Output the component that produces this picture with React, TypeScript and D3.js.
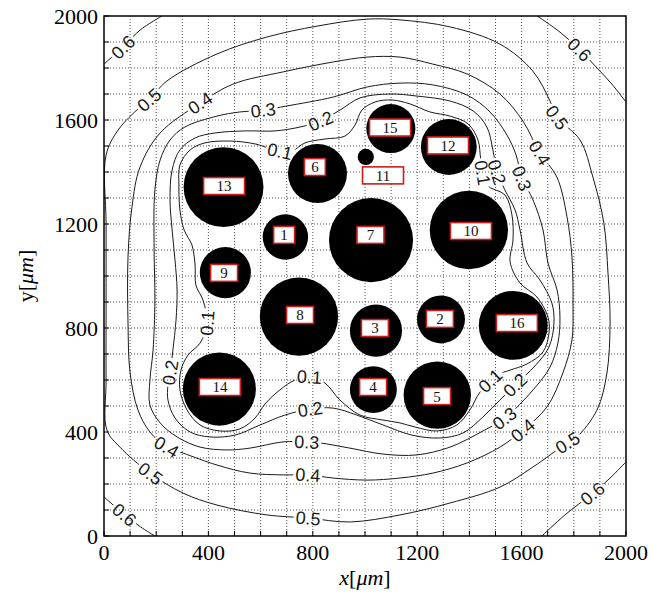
import React, { useEffect, useRef } from 'react';
import * as d3 from 'd3';

type Pt = [number, number];

const W = 651;
const H = 596;
const DOMAIN: Pt = [0, 2000];
const tickValues = [0, 400, 800, 1200, 1600, 2000];
const gridValues = d3.range(100, 2000, 100);

// Pores: id, centre (µm) and radius (µm)
const poreIds = [1, 2, 3, 4, 5, 6, 7, 8, 9, 10, 11, 12, 13, 14, 15, 16];
const poreX = [695, 1291, 1042, 1032, 1277, 818, 1023, 747, 465, 1398, 1003, 1321, 458, 442, 1099, 1568];
const poreY = [1150, 833, 790, 563, 542, 1394, 1138, 844, 1013, 1177, 1458, 1496, 1342, 565, 1567, 810];
const poreR = [87, 92, 100, 90, 129, 113, 161, 150, 98, 150, 31, 107, 153, 140, 94, 132];
// Where each pore's number tag sits (µm)
const tagX = [690, 1287, 1038, 1031, 1276, 808, 1021, 751, 460, 1406, 1069, 1318, 460, 444, 1096, 1582];
const tagY = [1158, 835, 800, 573, 538, 1419, 1158, 850, 1012, 1173, 1387, 1502, 1346, 573, 1571, 819];

// Iso-concentration lines (µm)
const iso01: Pt[] = [
  [291, 1427], [330, 1485], [387, 1512], [483, 1519], [579, 1508], [644, 1488], [713, 1477],
  [770, 1512], [847, 1527], [923, 1538], [962, 1581], [988, 1638], [1038, 1669], [1103, 1677],
  [1172, 1662], [1249, 1631], [1326, 1615], [1395, 1585], [1433, 1523], [1444, 1446], [1467, 1350],
  [1536, 1312], [1563, 1235], [1567, 1138], [1556, 1054], [1594, 973], [1659, 919], [1701, 842],
  [1705, 781], [1682, 708], [1621, 662], [1556, 638], [1506, 619], [1441, 554], [1402, 485],
  [1352, 427], [1276, 404], [1192, 419], [1134, 435], [1069, 446], [981, 465], [904, 523],
  [847, 588], [789, 612], [732, 600], [674, 562], [617, 508], [579, 454], [521, 412], [444, 404],
  [368, 427], [318, 485], [291, 562], [295, 638], [322, 696], [368, 742], [395, 819], [379, 908],
  [352, 965], [349, 1042], [337, 1119], [307, 1177], [291, 1254], [287, 1350],
];
const iso02: Pt[] = [
  [261, 1408], [291, 1485], [349, 1531], [425, 1550], [540, 1558], [655, 1558], [751, 1573],
  [828, 1596], [904, 1638], [981, 1685], [1096, 1700], [1199, 1692], [1326, 1673], [1414, 1635],
  [1467, 1573], [1490, 1485], [1506, 1400], [1536, 1331], [1575, 1254], [1594, 1177], [1621, 1050],
  [1670, 985], [1716, 896], [1724, 819], [1705, 727], [1651, 654], [1575, 581], [1517, 523],
  [1452, 458], [1375, 396], [1287, 377], [1180, 388], [1069, 427], [969, 465], [877, 492],
  [789, 488], [693, 465], [598, 427], [502, 388], [406, 381], [330, 400], [272, 454], [245, 523],
  [245, 581], [253, 627], [264, 715], [276, 831], [280, 946], [272, 1062], [261, 1177], [253, 1292],
];
const iso03: Pt[] = [
  [195, 1331], [215, 1446], [253, 1523], [310, 1573], [433, 1615], [521, 1631], [609, 1638],
  [701, 1654], [877, 1688], [1008, 1727], [1134, 1742], [1260, 1735], [1391, 1696], [1479, 1631],
  [1544, 1542], [1579, 1465], [1601, 1377], [1644, 1292], [1682, 1177], [1701, 1050], [1736, 946],
  [1747, 842], [1739, 742], [1709, 650], [1644, 562], [1536, 454], [1452, 404], [1326, 342],
  [1199, 312], [1069, 315], [942, 338], [828, 358], [778, 362], [686, 362], [559, 338], [471, 331],
  [368, 342], [280, 381], [215, 435], [176, 504], [176, 600], [188, 715], [195, 908], [192, 1100],
];
const iso04: Pt[] = [
  [368, 1665], [494, 1738], [686, 1785], [877, 1823], [1008, 1842], [1134, 1842], [1260, 1815],
  [1391, 1777], [1517, 1700], [1605, 1596], [1670, 1473], [1735, 1381], [1774, 1227], [1793, 1073],
  [1797, 881], [1793, 754], [1758, 627], [1697, 496], [1601, 404], [1517, 342], [1391, 281],
  [1260, 242], [1134, 223], [1008, 215], [877, 223], [782, 235], [686, 235], [559, 242], [433, 273],
  [303, 319], [241, 342], [176, 400], [130, 485], [100, 627], [92, 819], [92, 1073], [107, 1265],
  [138, 1419], [215, 1550],
];
const iso05: Pt[] = [
  [8, 1465], [54, 1561], [138, 1650], [176, 1681], [241, 1750], [433, 1854], [624, 1919],
  [816, 1961], [1008, 1988], [1134, 1985], [1326, 1958], [1517, 1892], [1643, 1788], [1709, 1673],
  [1735, 1611], [1824, 1523], [1873, 1381], [1915, 1204], [1931, 1011], [1939, 819], [1927, 627],
  [1889, 485], [1812, 381], [1774, 358], [1643, 265], [1517, 188], [1326, 127], [1134, 81],
  [942, 54], [782, 69], [624, 81], [433, 119], [303, 165], [176, 242], [61, 342], [11, 408],
  [8, 600], [8, 900], [8, 1200],
];
const iso06TopLeft: Pt[] = [[0, 1815], [73, 1881], [138, 1946], [222, 2000]];
const iso06TopRight: Pt[] = [[1660, 2000], [1747, 1938], [1824, 1869], [1889, 1800], [1946, 1738], [2000, 1669]];
const iso06BottomLeft: Pt[] = [[0, 150], [80, 81], [140, 35], [195, 0]];
const iso06BottomRight: Pt[] = [[1678, 0], [1766, 81], [1873, 165], [1939, 223], [2000, 285]];

const isoLines: { level: number; closed: boolean; pts: Pt[] }[] = [
  { level: 0.1, closed: true, pts: iso01 },
  { level: 0.2, closed: true, pts: iso02 },
  { level: 0.3, closed: true, pts: iso03 },
  { level: 0.4, closed: true, pts: iso04 },
  { level: 0.5, closed: true, pts: iso05 },
  { level: 0.6, closed: false, pts: iso06TopLeft },
  { level: 0.6, closed: false, pts: iso06TopRight },
  { level: 0.6, closed: false, pts: iso06BottomLeft },
  { level: 0.6, closed: false, pts: iso06BottomRight },
];

// Approximate spots (µm) where the level values are written on the lines
const labelLevels = [
  0.1, 0.1, 0.1, 0.1, 0.1,
  0.2, 0.2, 0.2, 0.2, 0.2,
  0.3, 0.3, 0.3, 0.3,
  0.4, 0.4, 0.4, 0.4, 0.4,
  0.5, 0.5, 0.5, 0.5, 0.5,
  0.6, 0.6, 0.6, 0.6,
];
const labelSpots: Pt[] = [
  [674, 1481], [1441, 1396], [1479, 600], [789, 612], [395, 819],
  [828, 1596], [1506, 1400], [1575, 581], [789, 488], [253, 627],
  [609, 1638], [1601, 1377], [1536, 454], [778, 362],
  [368, 1665], [1670, 1473], [1605, 408], [782, 235], [241, 342],
  [176, 1677], [1736, 1611], [1774, 358], [782, 69], [176, 242],
  [73, 1881], [1812, 1865], [80, 81], [1873, 165],
];

export default function App() {
  const ref = useRef<SVGSVGElement>(null);

  useEffect(() => {
    const svg = d3.select(ref.current as SVGSVGElement);
    svg.selectAll('*').remove();

    const x = d3.scaleLinear().domain(DOMAIN).range([104, 626]);
    const y = d3.scaleLinear().domain(DOMAIN).range([536, 16]);
    const [x0, x1] = x.range();
    const [y0, y1] = y.range();

    svg.append('rect').attr('width', W).attr('height', H).attr('fill', '#fff');

    const defs = svg.append('defs');
    defs.append('clipPath').attr('id', 'plotClip')
      .append('rect').attr('x', x0).attr('y', y1).attr('width', x1 - x0).attr('height', y0 - y1);
    const mask = defs.append('mask').attr('id', 'labelGaps')
      .attr('maskUnits', 'userSpaceOnUse').attr('x', 0).attr('y', 0).attr('width', W).attr('height', H);
    mask.append('rect').attr('width', W).attr('height', H).attr('fill', '#fff');

    // dotted grid
    const grid = svg.append('g').attr('stroke', '#555').attr('stroke-width', 1).attr('stroke-dasharray', '1 2');
    gridValues.forEach((v) => {
      grid.append('line').attr('x1', x(v)).attr('x2', x(v)).attr('y1', y0).attr('y2', y1);
      grid.append('line').attr('y1', y(v)).attr('y2', y(v)).attr('x1', x0).attr('x2', x1);
    });

    // iso lines
    const plot = svg.append('g').attr('clip-path', 'url(#plotClip)');
    const lineLayer = plot.append('g').attr('mask', 'url(#labelGaps)');
    const drawn = isoLines.map((c) => {
      const gen = d3.line<Pt>()
        .x((d) => x(d[0]))
        .y((d) => y(d[1]))
        .curve(c.closed ? d3.curveCatmullRomClosed.alpha(0.5) : d3.curveCatmullRom.alpha(0.5));
      const node = lineLayer.append('path')
        .attr('d', gen(c.pts) as string)
        .attr('fill', 'none')
        .attr('stroke', '#1a1a1a')
        .attr('stroke-width', 1)
        .node() as SVGPathElement;
      return { level: c.level, closed: c.closed, node, total: node.getTotalLength() };
    });

    // level values written along the lines
    const labelLayer = plot.append('g');
    labelSpots.forEach((spot, i) => {
      const level = labelLevels[i];
      const sx = x(spot[0]);
      const sy = y(spot[1]);
      let best = { d: Infinity, idx: -1, len: 0 };
      drawn.forEach((p, idx) => {
        if (p.level !== level) return;
        for (let l = 0; l <= p.total; l += 1.5) {
          const q = p.node.getPointAtLength(l);
          const d = (q.x - sx) ** 2 + (q.y - sy) ** 2;
          if (d < best.d) best = { d, idx, len: l };
        }
      });
      if (best.idx < 0) return;
      const p = drawn[best.idx];
      const at = (l: number) => {
        let v = l;
        if (p.closed) v = ((v % p.total) + p.total) % p.total;
        else v = Math.max(0, Math.min(p.total, v));
        return p.node.getPointAtLength(v);
      };
      const q = at(best.len);
      const a = at(best.len - 4);
      const b = at(best.len + 4);
      let ang = (Math.atan2(b.y - a.y, b.x - a.x) * 180) / Math.PI;
      if (ang > 90) ang -= 180;
      if (ang <= -90) ang += 180;
      const t = labelLayer.append('text')
        .attr('transform', `translate(${q.x},${q.y}) rotate(${ang})`)
        .attr('text-anchor', 'middle')
        .attr('dy', '0.36em')
        .attr('font-family', '"Liberation Sans", Arial, sans-serif')
        .attr('font-size', 18)
        .attr('fill', '#1a1a1a')
        .text(level.toFixed(1));
      const tw = (t.node() as SVGTextElement).getComputedTextLength();
      mask.append('rect')
        .attr('x', -tw / 2 - 2).attr('y', -7).attr('width', tw + 4).attr('height', 14)
        .attr('transform', `translate(${q.x},${q.y}) rotate(${ang})`)
        .attr('fill', '#000');
    });

    // pores
    const pores = svg.append('g');
    poreIds.forEach((id, i) => {
      pores.append('circle')
        .attr('cx', x(poreX[i])).attr('cy', y(poreY[i]))
        .attr('r', x(poreR[i]) - x(0))
        .attr('fill', '#000');
    });
    poreIds.forEach((id, i) => {
      const label = String(id);
      const bw = label.length > 1 ? 41 : (id === 1 || id === 6 ? 21 : 27);
      const bh = 17;
      const cx = x(tagX[i]);
      const cy = y(tagY[i]);
      pores.append('rect')
        .attr('x', cx - bw / 2).attr('y', cy - bh / 2).attr('width', bw).attr('height', bh)
        .attr('fill', '#fff').attr('stroke', '#d01c1c').attr('stroke-width', 1.6);
      pores.append('text')
        .attr('x', cx).attr('y', cy).attr('dy', '0.36em')
        .attr('text-anchor', 'middle')
        .attr('font-family', '"Liberation Serif", "Times New Roman", serif')
        .attr('font-size', 15)
        .attr('fill', '#111')
        .text(label);
    });

    // frame and ticks
    svg.append('rect')
      .attr('x', x0).attr('y', y1).attr('width', x1 - x0).attr('height', y0 - y1)
      .attr('fill', 'none').attr('stroke', '#000').attr('stroke-width', 1.5);
    const ticks = svg.append('g').attr('stroke', '#000').attr('stroke-width', 1);
    d3.range(0, 2001, 100).forEach((v) => {
      ticks.append('line').attr('x1', x(v)).attr('x2', x(v)).attr('y1', y0).attr('y2', y0 - 5);
      ticks.append('line').attr('y1', y(v)).attr('y2', y(v)).attr('x1', x0).attr('x2', x0 + 5);
    });

    const serif = '"Liberation Serif", "Times New Roman", serif';
    const tl = svg.append('g').attr('font-family', serif).attr('font-size', 22).attr('fill', '#000');
    tickValues.forEach((v) => {
      tl.append('text').attr('x', x(v)).attr('y', 560).attr('text-anchor', 'middle').text(String(v));
      tl.append('text').attr('x', x0 - 6).attr('y', y(v)).attr('dy', '0.35em').attr('text-anchor', 'end').text(String(v));
    });

    const xt = svg.append('text')
      .attr('x', (x0 + x1) / 2).attr('y', 585)
      .attr('text-anchor', 'middle')
      .attr('font-family', serif).attr('font-size', 22);
    xt.append('tspan').attr('font-style', 'italic').text('x');
    xt.append('tspan').text('[');
    xt.append('tspan').attr('font-style', 'italic').text('μm');
    xt.append('tspan').text(']');

    const yt = svg.append('text')
      .attr('transform', `translate(33,${(y0 + y1) / 2}) rotate(-90)`)
      .attr('text-anchor', 'middle')
      .attr('font-family', serif).attr('font-size', 22);
    yt.append('tspan').text('y');
    yt.append('tspan').text('[');
    yt.append('tspan').attr('font-style', 'italic').text('μm');
    yt.append('tspan').text(']');
  }, []);

  return (
    <svg
      ref={ref}
      width={W}
      height={H}
      viewBox={`0 0 ${W} ${H}`}
      style={{ position: 'absolute', left: 0, top: 0, display: 'block' }}
    />
  );
}
